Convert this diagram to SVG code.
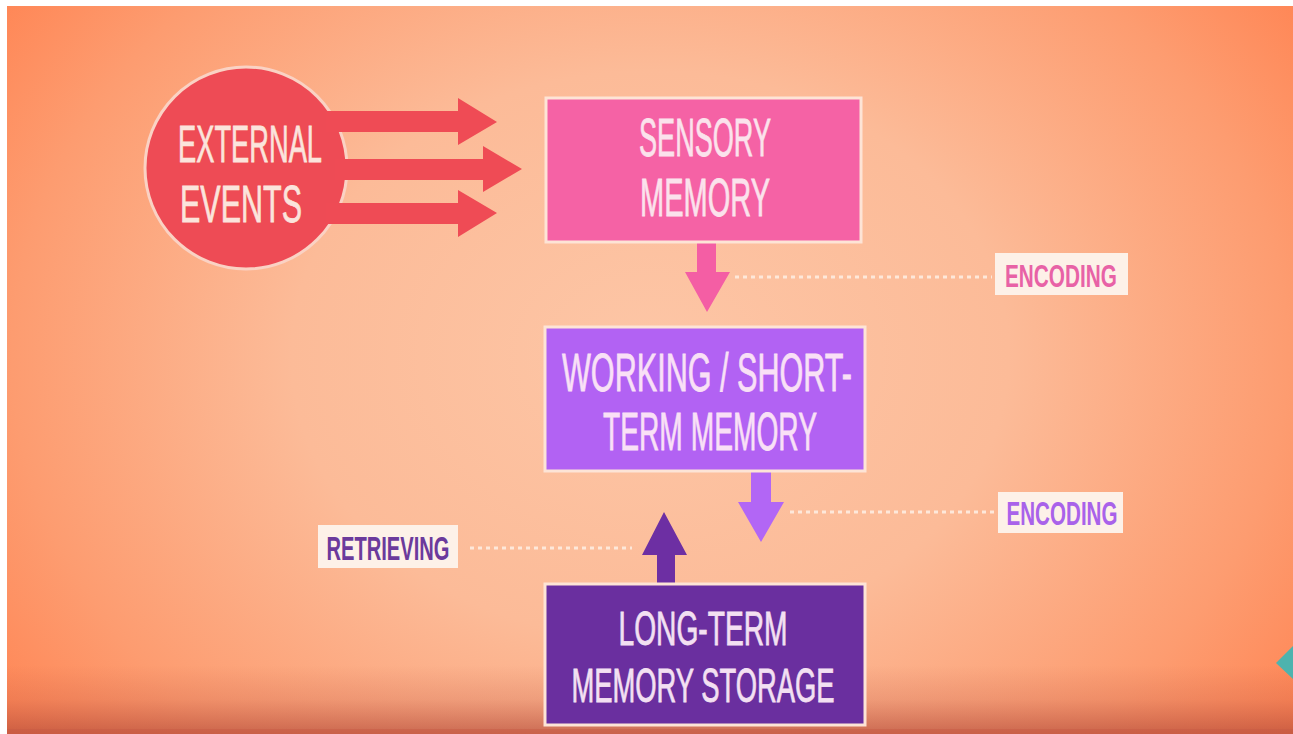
<svg xmlns="http://www.w3.org/2000/svg" width="1293" height="734" viewBox="0 0 1293 734">
<defs>
<radialGradient id="bg" cx="0.5" cy="0.48" r="0.62" gradientTransform="translate(0.5 0.48) scale(1 1.4) translate(-0.5 -0.48)">
<stop offset="0" stop-color="#fdc6a6"/>
<stop offset="0.45" stop-color="#fcbb98"/>
<stop offset="0.8" stop-color="#fd9c70"/>
<stop offset="1" stop-color="#ff8554"/>
</radialGradient>
<linearGradient id="bottom" x1="0" y1="0" x2="0" y2="1">
<stop offset="0" stop-color="#b85040" stop-opacity="0"/>
<stop offset="0.5" stop-color="#b85040" stop-opacity="0.2"/>
<stop offset="1" stop-color="#b04838" stop-opacity="0.65"/>
</linearGradient>
<style>
.t{font-family:"Liberation Sans",Arial,sans-serif;text-anchor:middle}
.m{stroke-width:0.8}
.b{font-weight:bold}
.box{stroke:#fde4d6;stroke-width:3}
.dot{stroke:#fde8da;stroke-width:3;stroke-dasharray:4 4;fill:none}
.lab{fill:#fdf1e8}
</style>
</defs>
<rect x="0" y="0" width="1293" height="734" fill="#ffffff"/>
<rect x="7" y="6" width="1286" height="728" fill="url(#bg)"/>
<rect x="7" y="665" width="1286" height="69" fill="url(#bottom)"/>
<rect x="7" y="729" width="1286" height="5" fill="#c85a44" opacity="0.5"/>
<polygon points="1293,646 1276,663 1293,679" fill="#4db3ae"/>

<g id="external-events">
<circle cx="246" cy="168" r="101" fill="#ee4b55" stroke="#fad2c4" stroke-width="3"/>
<text class="t m" x="250" y="162" font-size="52" fill="#fbe4dc" stroke="#fbe4dc" textLength="144" lengthAdjust="spacingAndGlyphs">EXTERNAL</text>
<text class="t m" x="241" y="222" font-size="52" fill="#fbe4dc" stroke="#fbe4dc" textLength="122" lengthAdjust="spacingAndGlyphs">EVENTS</text>
</g>

<g id="connectors">
<g fill="#ef4b55">
<polygon points="326,111 458,111 458,98 497,122 458,145 458,132 326,132"/>
<polygon points="335,159 483,159 483,146 522,169 483,192 483,180 335,180"/>
<polygon points="326,203 458,203 458,190 497,213 458,237 458,224 326,224"/>
</g>
<polygon points="697,243 716,243 716,272 730,272 707,312 685,272 697,272" fill="#f45ea4"/>
<line class="dot" x1="735" y1="277" x2="992" y2="277"/>
<polygon points="751,471 771,471 771,502 784,502 761,542 738,502 751,502" fill="#b266f5"/>
<line class="dot" x1="790" y1="512" x2="996" y2="512"/>
<polygon points="657,585 675,585 675,555 687,555 664,512 642,555 657,555" fill="#6d2fa3"/>
<line class="dot" x1="470" y1="548" x2="632" y2="548"/>
</g>

<g id="sensory-memory">
<rect class="box" x="546" y="98" width="315" height="144" fill="#f562a5"/>
<text class="t m" x="705" y="156" font-size="54" fill="#fbe2ec" stroke="#fbe2ec" textLength="132" lengthAdjust="spacingAndGlyphs">SENSORY</text>
<text class="t m" x="705" y="216" font-size="54" fill="#fbe2ec" stroke="#fbe2ec" textLength="130" lengthAdjust="spacingAndGlyphs">MEMORY</text>
</g>

<g id="working-memory">
<rect class="box" x="545" y="327" width="320" height="144" fill="#b262f3"/>
<text class="t m" x="707" y="391" font-size="54" fill="#f9e0f6" stroke="#f9e0f6" textLength="290" lengthAdjust="spacingAndGlyphs">WORKING / SHORT-</text>
<text class="t m" x="710" y="450" font-size="54" fill="#f9e0f6" stroke="#f9e0f6" textLength="214" lengthAdjust="spacingAndGlyphs">TERM MEMORY</text>
</g>

<g id="long-term-memory">
<rect class="box" x="545" y="584" width="320" height="141" fill="#6a2f9f"/>
<text class="t m" x="703" y="645" font-size="49" fill="#f3e0f2" stroke="#f3e0f2" textLength="169" lengthAdjust="spacingAndGlyphs">LONG-TERM</text>
<text class="t m" x="703" y="702" font-size="49" fill="#f3e0f2" stroke="#f3e0f2" textLength="263" lengthAdjust="spacingAndGlyphs">MEMORY STORAGE</text>
</g>

<g id="encoding-1">
<rect class="lab" x="995" y="253" width="133" height="42"/>
<text class="t b" x="1061" y="287" font-size="31" fill="#e862a6" textLength="112" lengthAdjust="spacingAndGlyphs">ENCODING</text>
</g>

<g id="encoding-2">
<rect class="lab" x="998" y="492" width="125" height="41"/>
<text class="t b" x="1062" y="525" font-size="33" fill="#a962ea" textLength="111" lengthAdjust="spacingAndGlyphs">ENCODING</text>
</g>

<g id="retrieving">
<rect class="lab" x="318" y="525" width="140" height="43"/>
<text class="t b" x="388" y="560" font-size="34" fill="#6b3a9c" textLength="123" lengthAdjust="spacingAndGlyphs">RETRIEVING</text>
</g>
</svg>
